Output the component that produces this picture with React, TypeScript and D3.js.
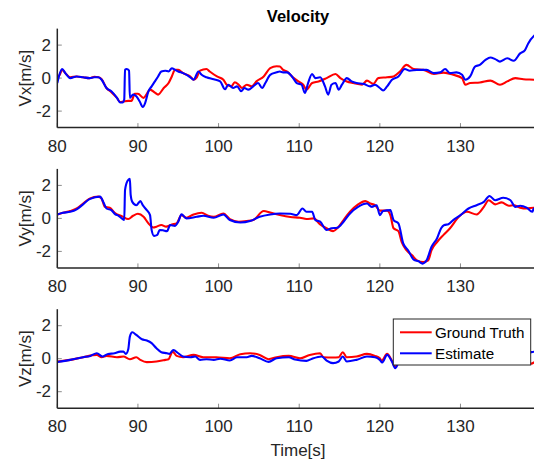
import React from "react";
import * as d3 from "d3";

// ---------- data ----------
const xTicks = [80, 90, 100, 110, 120, 130];
const yTicks = [-2, 0, 2];
const panelLabels = ["Vx[m/s]", "Vy[m/s]", "Vz[m/s]"];
const seriesNames = ["Ground Truth", "Estimate"];

const vxTruthT = [80.0,80.3,80.6,81.0,81.6,82.4,83.2,84.0,84.6,85.1,85.5,86.1,86.7,87.4,87.8,88.2,88.8,89.2,89.6,90.0,90.7,91.1,91.5,92.1,92.5,93.2,93.8,94.2,94.6,95.0,95.6,96.5,96.9,97.3,97.7,98.5,98.9,99.8,100.6,101.0,101.6,102.0,102.5,102.9,103.5,104.1,104.7,105.6,106.4,107.2,107.6,108.0,108.5,109.1,109.9,110.5,110.9,111.6,112.4,113.4,114.5,115.1,115.9,116.7,117.8,118.4,119.2,119.8,120.9,121.7,122.5,123.3,124.2,125.4,126.7,127.9,129.1,130.2,130.6,131.2,132.4,133.7,134.9,135.8,136.8,137.8,139.1,139.7];
const vxTruth = [0.0,0.2,0.5,0.3,0.05,0.1,0.05,0.0,0.08,0.05,-0.07,-0.6,-0.85,-1.2,-1.45,-1.42,-1.38,-1.38,-0.95,-0.95,-1.2,-0.95,-0.7,-0.88,-1.0,-0.6,-0.3,0.1,0.5,0.5,0.3,0.1,-0.1,0.05,0.45,0.55,0.4,0.1,-0.1,-0.4,-0.5,-0.25,-0.4,-0.6,-0.4,-0.5,-0.2,0.1,0.6,0.72,0.7,0.5,0.4,0.1,-0.2,-0.4,-0.7,-0.3,-0.2,0.0,0.25,0.0,-0.2,-0.3,-0.4,-0.15,-0.35,0.0,0.05,0.1,0.4,0.8,0.55,0.5,0.25,0.33,0.2,0.0,-0.4,-0.3,-0.27,-0.15,-0.4,-0.2,0.0,-0.07,-0.1,-0.12];

const vxEstT = [80.0,80.2,80.6,81.0,81.6,82.4,83.2,84.0,84.6,85.1,85.5,86.1,86.7,87.4,87.8,88.1,88.3,88.4,88.6,88.9,89.0,89.4,89.8,90.2,90.6,90.9,91.3,91.7,92.1,92.5,92.9,93.4,93.8,94.2,94.6,95.0,95.6,96.5,96.9,97.5,97.9,98.5,99.4,100.2,100.8,101.2,101.8,102.3,102.8,103.2,103.7,104.3,104.9,105.4,105.8,106.4,107.2,107.6,108.0,108.5,109.1,109.7,110.3,110.7,111.1,111.6,112.0,112.6,113.2,113.6,114.0,114.5,114.9,115.3,115.9,116.5,117.1,118.0,118.8,119.4,120.0,120.4,120.9,121.5,122.3,123.1,123.7,124.6,125.8,126.7,127.5,128.1,128.7,129.5,130.2,130.6,131.2,131.8,132.4,133.1,133.7,134.3,134.9,135.8,136.6,137.4,138.0,138.4,139.1,139.7];
const vxEst = [-0.3,0.1,0.55,0.3,0.0,0.1,0.05,0.0,0.05,0.05,-0.1,-0.6,-0.8,-1.2,-1.48,-1.48,-1.3,0.5,0.55,0.45,-1.2,-1.0,-1.1,-1.4,-1.75,-1.5,-0.8,-0.5,-0.2,0.1,0.4,0.45,0.4,0.6,0.5,0.4,0.3,0.05,-0.1,0.4,0.2,0.05,-0.07,-0.2,-0.68,-0.4,-0.6,-0.5,-0.8,-0.6,-0.7,-0.5,-0.3,-0.6,-0.3,0.2,0.35,0.4,0.35,0.35,0.1,-0.3,-0.4,-0.9,-0.3,0.25,0.0,0.05,-0.5,-1.0,-0.4,-0.3,-0.7,-0.4,0.0,-0.2,-0.3,-0.35,-0.5,-0.4,-0.6,-0.75,-0.5,-0.1,0.1,0.55,0.45,0.5,0.5,0.3,0.35,0.55,0.3,0.35,0.2,-0.1,0.1,0.7,0.8,1.1,1.25,1.15,1.0,1.2,1.05,1.5,1.7,2.1,2.55,2.7];

const vyTruthT = [80.0,80.7,81.6,82.4,83.2,84.0,85.1,85.5,85.9,86.5,87.2,88.0,88.8,89.4,90.0,90.7,91.3,91.9,92.3,92.9,93.5,94.2,94.8,95.4,96.0,96.9,97.9,98.7,99.4,100.6,101.4,102.5,103.5,104.3,105.6,106.4,107.6,108.9,110.1,110.9,111.8,112.6,113.4,114.2,114.9,115.5,116.3,117.3,118.2,118.8,119.4,120.0,120.9,121.3,121.7,122.3,122.7,123.3,124.0,124.6,125.4,126.0,126.4,127.1,127.9,128.7,129.8,130.8,132.0,132.9,133.5,134.3,135.1,136.0,136.6,137.4,138.2,139.1,139.7];
const vyTruth = [0.24,0.34,0.45,0.6,0.9,1.2,1.32,1.2,0.7,0.65,0.3,0.14,-0.04,0.16,0.28,0.1,-0.3,-0.55,-0.5,-0.4,-0.5,-0.37,-0.3,0.2,0.04,0.24,0.34,0.16,0.1,0.3,-0.04,-0.2,-0.16,-0.1,0.45,0.36,0.2,0.08,0.04,-0.04,0.0,-0.37,-0.6,-0.77,-0.5,-0.1,0.4,0.85,1.05,0.9,0.8,0.47,0.47,0.2,-0.6,-0.77,-1.43,-1.93,-2.24,-2.54,-2.64,-2.54,-1.93,-1.43,-1.0,-0.6,0.1,0.4,0.24,0.7,1.1,0.85,0.97,0.77,0.8,0.65,0.6,0.65,0.65];

const vyEstT = [80.0,80.7,81.6,82.4,83.2,84.0,85.3,85.7,86.1,86.7,87.2,87.6,88.0,88.3,88.4,88.7,89.0,89.1,89.3,89.8,90.3,90.6,91.1,91.5,91.7,92.0,92.4,92.7,93.1,93.6,94.0,94.6,95.0,95.4,96.0,97.3,98.1,99.4,100.6,101.4,102.7,103.9,105.1,106.4,107.6,108.9,109.7,110.4,110.9,111.6,112.0,112.6,113.4,114.0,114.7,115.5,116.3,117.3,118.4,119.0,119.6,120.0,120.4,121.3,121.7,122.3,122.9,123.5,124.2,124.8,125.3,125.8,126.4,127.1,127.6,128.0,128.5,129.1,130.0,131.0,132.0,132.9,133.6,134.3,135.3,136.2,136.8,137.4,138.2,138.9,139.1,139.7];
const vyEst = [0.24,0.34,0.4,0.55,0.85,1.17,1.32,1.0,0.6,0.5,0.25,0.16,0.0,-0.1,1.72,2.27,2.4,1.42,1.0,0.8,1.05,0.8,0.5,0.2,-0.71,-1.06,-1.0,-0.7,-0.72,-0.78,-0.4,-0.45,-0.2,0.25,0.0,0.1,0.16,0.04,0.24,-0.1,-0.25,-0.16,0.1,0.24,0.3,0.28,0.2,0.6,0.4,0.4,-0.1,-0.2,-0.7,-0.6,-0.57,-0.2,0.3,0.7,0.9,0.7,0.8,0.2,0.45,0.5,-0.1,-0.3,-1.52,-1.93,-2.5,-2.6,-2.74,-2.54,-1.73,-1.2,-0.6,-0.4,-0.35,-0.1,0.2,0.6,0.8,1.0,1.36,1.1,1.25,1.1,0.7,0.77,0.65,0.4,0.6,0.6];

const vzTruthT = [80.0,81.6,83.2,84.9,85.5,86.1,87.4,88.2,89.0,89.8,90.3,91.1,92.3,93.4,93.8,94.3,94.8,95.6,96.9,98.1,99.7,101.4,102.7,103.9,105.1,106.2,107.2,108.7,110.1,111.3,112.6,113.0,114.2,114.9,115.4,115.9,117.1,118.4,119.4,120.0,120.2,120.9,121.4,121.9,122.5,124.0,126.0,128.0,130.0,132.0,134.0,136.0,138.0,138.8,139.2,139.7];
const vzTruth = [-0.17,-0.07,0.09,0.23,0.09,0.17,0.09,0.13,-0.03,0.09,-0.07,-0.21,-0.17,-0.07,-0.03,0.43,0.17,0.09,0.23,0.09,0.09,0.03,0.27,0.33,0.23,-0.03,0.09,0.17,0.03,0.23,0.33,0.09,0.07,0.09,0.39,0.09,0.13,0.29,0.17,0.03,-0.13,0.29,-0.03,-0.48,-0.1,0.0,0.05,0.0,-0.1,0.0,0.05,-0.05,-0.1,-0.3,-0.2,-0.1];

const vzEstT = [80.0,81.6,83.2,84.1,84.9,85.6,86.3,87.1,87.8,88.2,88.5,88.8,89.0,89.3,89.8,90.5,91.1,91.7,92.3,92.9,93.6,93.9,94.4,95.0,95.6,96.5,97.1,97.7,98.5,99.4,100.2,101.4,102.3,103.5,104.1,105.1,106.2,107.2,108.7,109.5,110.9,111.6,112.8,113.4,114.2,114.9,115.4,115.9,117.1,118.4,119.4,120.0,120.3,120.9,121.5,121.9,122.4,124.0,126.0,128.0,130.0,132.0,134.0,136.0,138.0,138.8,139.7];
const vzEst = [-0.2,-0.07,0.09,0.17,0.33,0.13,0.29,0.33,0.43,0.43,0.29,0.57,1.34,1.6,1.44,1.18,1.1,0.94,0.63,0.39,0.33,0.29,0.53,0.33,0.13,0.09,0.13,-0.07,-0.03,-0.07,0.0,-0.11,0.09,0.09,0.17,0.03,-0.19,0.03,0.09,-0.05,-0.13,0.0,0.13,-0.11,-0.27,-0.17,0.13,-0.17,-0.07,0.13,0.09,-0.07,-0.23,0.23,-0.17,-0.58,-0.2,0.0,0.1,0.0,0.1,0.2,0.1,0.2,0.3,0.4,0.45];

// ---------- layout ----------
const W = 534;
const H = 459;
const LEFT = 57.3;
const RIGHT = 538.7;
const PANEL_H = 99;
const TOP0 = 28.6;
const GAP = 140.3;
const FONT = "'Liberation Sans', Arial, Helvetica, sans-serif";
const AX = "#262626";
const RED = "#ff0000";
const BLUE = "#0000ff";

const panels = [
  { label: panelLabels[0], truth: [vxTruthT, vxTruth], est: [vxEstT, vxEst] },
  { label: panelLabels[1], truth: [vyTruthT, vyTruth], est: [vyEstT, vyEst] },
  { label: panelLabels[2], truth: [vzTruthT, vzTruth], est: [vzEstT, vzEst] },
];

const x = d3.scaleLinear().domain([80, 139.7]).range([LEFT, RIGHT]);

function Panel({ idx, p }: { idx: number; p: any }) {
  const top = TOP0 + idx * GAP;
  const bottom = top + PANEL_H;
  const y = d3.scaleLinear().domain([-3, 3]).range([bottom, top]);
  const line = d3
    .line<[number, number]>()
    .x((d) => x(d[0]))
    .y((d) => y(d[1]))
    .curve(d3.curveMonotoneX);
  const toPts = (s: number[][]) => s[0].map((t, i) => [t, s[1][i]] as [number, number]);
  const clipId = `clip${idx}`;
  return (
    <g>
      <defs>
        <clipPath id={clipId}>
          <rect x={LEFT} y={top} width={RIGHT - LEFT} height={PANEL_H} />
        </clipPath>
      </defs>
      {xTicks.map((t) => (
        <line key={"xt" + t} x1={x(t)} x2={x(t)} y1={bottom} y2={bottom - 4.5} stroke="#8c8c8c" strokeWidth={1} />
      ))}
      {yTicks.map((v) => (
        <line key={"yt" + v} x1={LEFT} x2={LEFT + 4.5} y1={y(v)} y2={y(v)} stroke="#8c8c8c" strokeWidth={1} />
      ))}
      <g clipPath={`url(#${clipId})`}>
        <path d={line(toPts(p.truth)) || ""} fill="none" stroke={RED} strokeWidth={2.1} strokeLinejoin="round" />
        <path d={line(toPts(p.est)) || ""} fill="none" stroke={BLUE} strokeWidth={2.1} strokeLinejoin="round" />
      </g>
      <line x1={LEFT} x2={RIGHT} y1={bottom} y2={bottom} stroke={AX} strokeWidth={1.5} />
      <line x1={LEFT} x2={LEFT} y1={top} y2={bottom} stroke={AX} strokeWidth={1.5} />
      {xTicks.map((t) => (
        <text key={"xl" + t} x={x(t)} y={bottom + 18.5} textAnchor="middle" dominantBaseline="central" fontSize={17} fill={AX} fontFamily={FONT}>
          {t}
        </text>
      ))}
      {yTicks.map((v) => (
        <text key={"yl" + v} x={51} y={y(v)} textAnchor="end" dominantBaseline="central" fontSize={17} fill={AX} fontFamily={FONT}>
          {v}
        </text>
      ))}
      <text
        transform={`translate(25.5,${y(0)}) rotate(-90)`}
        textAnchor="middle"
        dominantBaseline="central"
        fontSize={17}
        fill={AX}
        fontFamily={FONT}
      >
        {p.label}
      </text>
    </g>
  );
}

export default function App() {
  const lgX = 393.3;
  const lgY = 319;
  return (
    <svg width={W} height={H} style={{ position: "absolute", left: 0, top: 0, background: "#fff" }}>
      <rect x={0} y={0} width={W} height={H} fill="#fff" />
      <text x={(LEFT + RIGHT) / 2} y={15.5} textAnchor="middle" dominantBaseline="central" fontSize={16.5} fontWeight="bold" fill="#000" fontFamily={FONT}>
        Velocity
      </text>
      {panels.map((p, i) => (
        <Panel key={i} idx={i} p={p} />
      ))}
      <text x={(LEFT + RIGHT) / 2} y={450} textAnchor="middle" dominantBaseline="central" fontSize={17} fill={AX} fontFamily={FONT}>
        Time[s]
      </text>
      <g>
        <rect x={lgX} y={lgY} width={137.4} height={46} fill="#fff" stroke={AX} strokeWidth={1} />
        <line x1={400} x2={431.7} y1={332.3} y2={332.3} stroke={RED} strokeWidth={2} />
        <line x1={400} x2={431.7} y1={353.3} y2={353.3} stroke={BLUE} strokeWidth={2} />
        <text x={435} y={332.3} dominantBaseline="central" fontSize={15.2} fill="#000" fontFamily={FONT}>
          {seriesNames[0]}
        </text>
        <text x={435} y={353.3} dominantBaseline="central" fontSize={15.2} fill="#000" fontFamily={FONT}>
          {seriesNames[1]}
        </text>
      </g>
    </svg>
  );
}
